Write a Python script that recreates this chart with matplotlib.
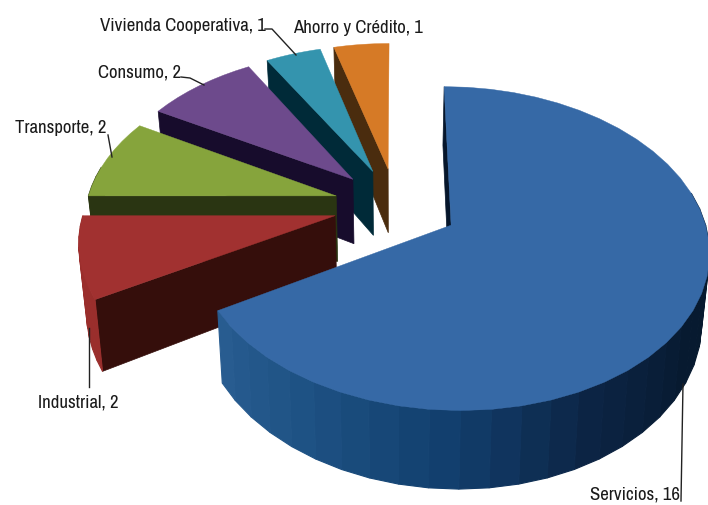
import matplotlib
matplotlib.use('Agg')
import matplotlib.pyplot as plt
import numpy as np
from matplotlib.colors import LinearSegmentedColormap

categories = ['Servicios', 'Industrial', 'Transporte', 'Consumo', 'Vivienda Cooperativa', 'Ahorro y Crédito']
values = [16, 2, 2, 2, 1, 1]
top_colors = ['#3669A6', '#A13130', '#86A43C', '#6D4A8C', '#3494AE', '#D67A26']
wall_colors = ['#06162B', '#350E0B', '#2A3512', '#170C2C', '#002A38', '#4A2C0E']
outer_colors = ['#2A5E93', '#9A2E2C', '#2A3512', '#170C2C', '#002A38', '#4A2C0E']

# label anchor (left, middle) and leader line, in pixels
label_pos = [(590, 495), (38, 403), (15, 128), (98, 72), (100, 26), (293, 28)]
leaders = [
    [(683, 385), (681, 502)],
    [(89, 329), (89, 388)],
    [(108, 136), (112, 158)],
    [(181, 78), (190, 79), (204, 86)],
    [(265, 30), (272, 30), (296, 56)],
    [],
]

# perspective set up
cx, cy = 396, 206.7
rx, ry = 250, 153
persp = 0.142
depth = 66
explode = 0.25
shrink = 0.975


def project(X, Y, bottom=False):
    s = 1 / (1 + persp * Y)
    px = X * rx * s
    py = -Y * ry * s
    if bottom:
        return cx + px * shrink, cy + py + depth * s
    return cx + px, cy + py


fig = plt.figure(figsize=(7.08, 5.06), dpi=100)
ax = fig.add_axes([0, 0, 1, 1])
ax.set_xlim(0, 708)
ax.set_ylim(506, 0)
ax.axis('off')

blues = LinearSegmentedColormap.from_list('side', ['#2A5E93', '#1E5284', '#123F6E', '#0C2444', '#071A30', '#081A2E'])

total = sum(values)
angles = 90 - np.cumsum([0] + values) * 360 / total

# back slices first, Servicios on top at the end
for i in [5, 4, 3, 2, 1, 0]:
    a0, a1 = np.radians(angles[i]), np.radians(angles[i + 1])
    mid = (a0 + a1) / 2
    ox, oy = explode * np.cos(mid), explode * np.sin(mid)
    t = np.linspace(a0, a1, max(int(abs(angles[i + 1] - angles[i])) // 6, 8) + 1)
    X = ox + np.cos(t)
    Y = oy + np.sin(t)
    base = 20 - i * 3

    # flat inner wall, only the side turned to the viewer
    ends = [(ox, oy), (ox + np.cos(a0), oy + np.sin(a0))]
    q = [project(*ends[0]), project(*ends[1]), project(*ends[1], True), project(*ends[0], True)]
    ax.fill(*zip(*q), color=wall_colors[i], lw=0.5, zorder=base)

    # outer wall in steps
    for j in range(len(t) - 1):
        if np.sin(t[j]) > 0.15 and np.sin(t[j + 1]) > 0.15:
            continue
        q = [project(X[j], Y[j]), project(X[j + 1], Y[j + 1]),
             project(X[j + 1], Y[j + 1], True), project(X[j], Y[j], True)]
        if i == 0:
            col = blues(np.clip((np.degrees(t[j]) + 150) / 150, 0, 1))
        else:
            col = outer_colors[i]
        ax.fill(*zip(*q), color=col, lw=0.8, zorder=base + 1)

    # top face
    px, py = project(np.r_[ox, X], np.r_[oy, Y])
    ax.fill(px, py, color=top_colors[i], lw=0.3, zorder=base + 2)

for i, name in enumerate(categories):
    ax.text(label_pos[i][0], label_pos[i][1], f'{name}, {values[i]}', ha='left', va='center',
            fontsize=13.5, color='#1a1a1a', family=['Archivo Narrow', 'Liberation Sans'], zorder=40)
    if leaders[i]:
        lx, ly = zip(*leaders[i])
        ax.plot(lx, ly, color='#222222', lw=1.0, zorder=30)

fig.savefig('out.png', dpi=100)
